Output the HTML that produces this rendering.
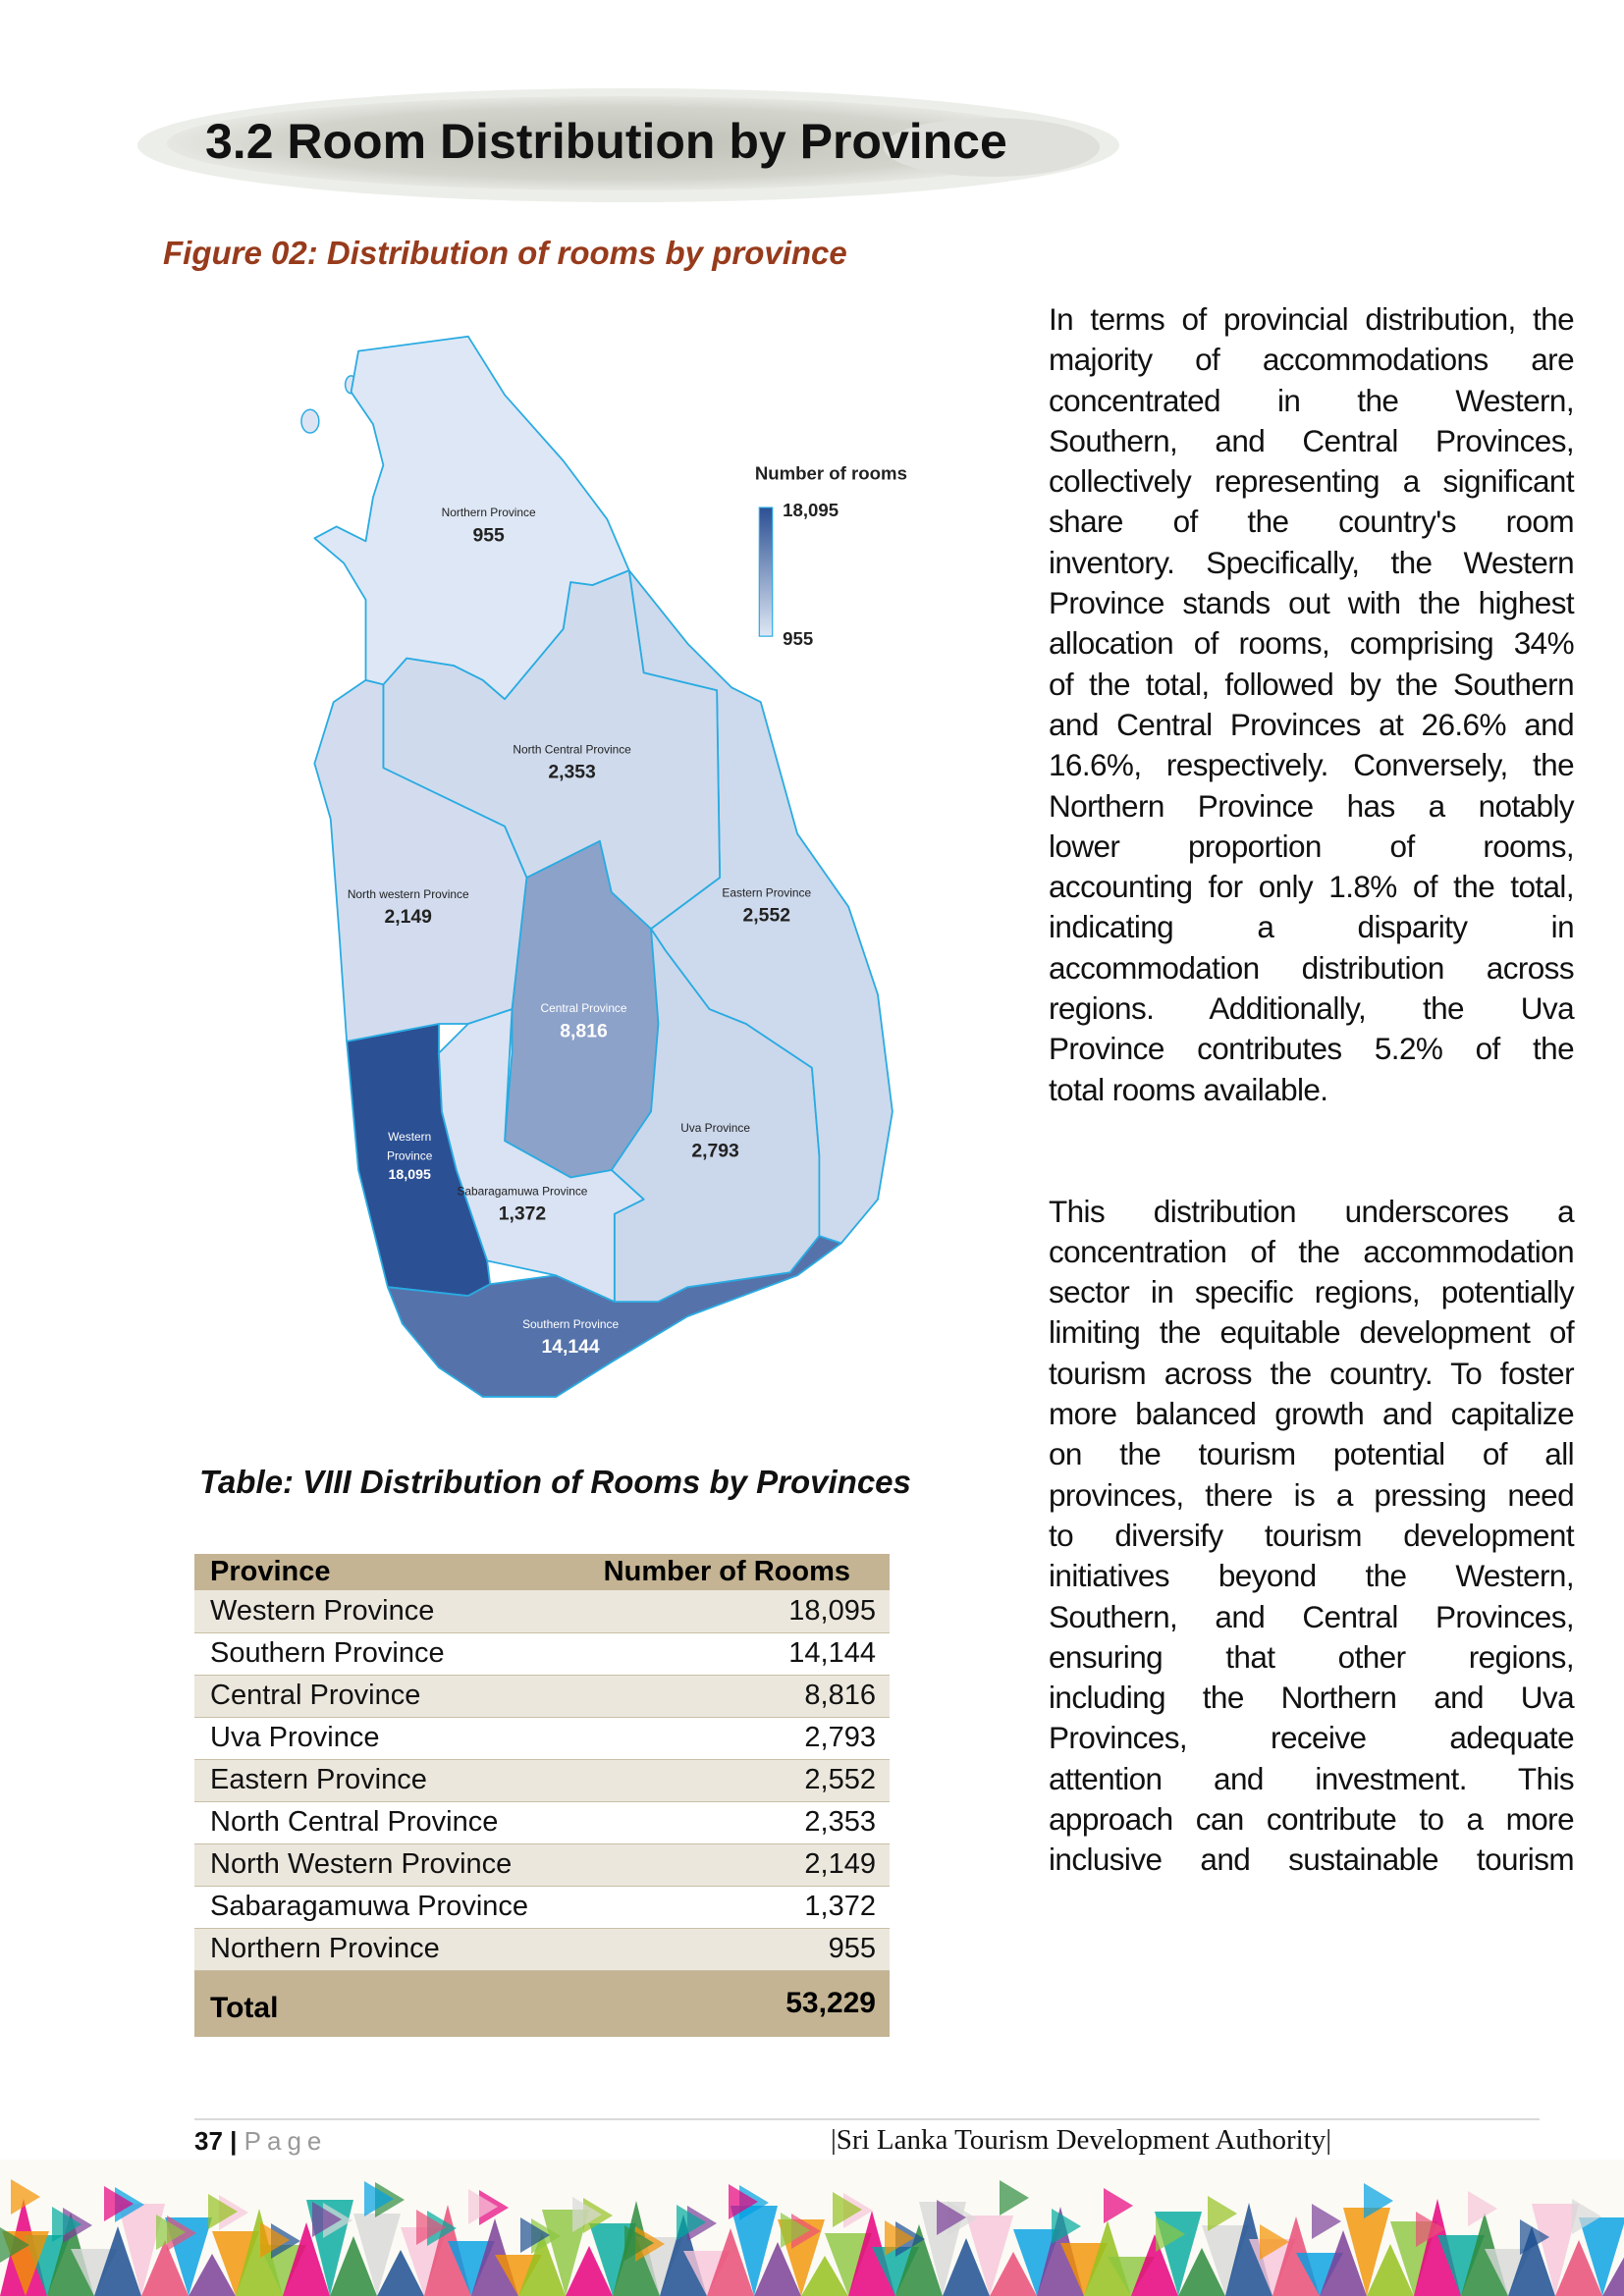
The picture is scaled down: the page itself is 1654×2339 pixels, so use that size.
<!DOCTYPE html>
<html><head><meta charset="utf-8">
<style>
*{margin:0;padding:0;box-sizing:border-box}
body{width:1654px;height:2339px;position:relative;background:#fff;font-family:"Liberation Sans",Arial,sans-serif;overflow:hidden}
.abs{position:absolute}
#body-text div{height:41.3px;line-height:41.3px;font-size:31.5px;color:#111;text-align:justify;text-align-last:justify;white-space:nowrap;letter-spacing:-0.6px}
#body-text div.l{text-align-last:left}
table{border-collapse:collapse}
</style></head><body>

<svg class="abs" style="left:0;top:0" width="1654" height="230">
 <defs><radialGradient id="bg" cx="50%" cy="50%" r="55%"><stop offset="0" stop-color="#bfc1b8"/><stop offset="0.7" stop-color="#d3d5cd"/><stop offset="1" stop-color="#eeefeb"/></radialGradient></defs>
 <ellipse cx="640" cy="148" rx="500" ry="58" fill="#eceee9"/>
 <ellipse cx="630" cy="146" rx="460" ry="48" fill="url(#bg)"/>
 <ellipse cx="1010" cy="150" rx="110" ry="30" fill="#dfe0db"/>
</svg>
<div class="abs" style="left:209px;top:115px;font-size:50px;font-weight:bold;color:#111">3.2 Room Distribution by Province</div>
<div class="abs" style="left:166px;top:239px;font-size:33px;font-weight:bold;font-style:italic;color:#973b1c">Figure 02: Distribution of rooms by province</div>

<svg id="map" class="abs" style="left:0;top:0" width="1000" height="1450"></svg>

<div id="body-text" class="abs" style="left:1068px;top:305px;width:535px">
<div>In terms of provincial distribution, the</div>
<div>majority of accommodations are</div>
<div>concentrated in the Western,</div>
<div>Southern, and Central Provinces,</div>
<div>collectively representing a significant</div>
<div>share of the country's room</div>
<div>inventory. Specifically, the Western</div>
<div>Province stands out with the highest</div>
<div>allocation of rooms, comprising 34%</div>
<div>of the total, followed by the Southern</div>
<div>and Central Provinces at 26.6% and</div>
<div>16.6%, respectively. Conversely, the</div>
<div>Northern Province has a notably</div>
<div>lower proportion of rooms,</div>
<div>accounting for only 1.8% of the total,</div>
<div>indicating a disparity in</div>
<div>accommodation distribution across</div>
<div>regions. Additionally, the Uva</div>
<div>Province contributes 5.2% of the</div>
<div class="l">total rooms available.</div>
<div class="l" style="height:41.3px"></div>
<div class="l" style="height:41.3px"></div>
<div>This distribution underscores a</div>
<div>concentration of the accommodation</div>
<div>sector in specific regions, potentially</div>
<div>limiting the equitable development of</div>
<div>tourism across the country. To foster</div>
<div>more balanced growth and capitalize</div>
<div>on the tourism potential of all</div>
<div>provinces, there is a pressing need</div>
<div>to diversify tourism development</div>
<div>initiatives beyond the Western,</div>
<div>Southern, and Central Provinces,</div>
<div>ensuring that other regions,</div>
<div>including the Northern and Uva</div>
<div>Provinces, receive adequate</div>
<div>attention and investment. This</div>
<div>approach can contribute to a more</div>
<div>inclusive and sustainable tourism</div>
</div>

<div class="abs" style="left:203px;top:1491px;font-size:33px;font-weight:bold;font-style:italic;color:#111">Table: VIII Distribution of Rooms by Provinces</div>

<table id="tbl" class="abs" style="left:198px;top:1583px;width:708px"></table>

<div class="abs" style="left:198px;top:2158px;width:1370px;height:2px;background:#d9d9d9"></div>
<div class="abs" style="left:198px;top:2166px;font-size:26px;color:#111"><b>37 |</b> <span style="color:#999;letter-spacing:6px">Page</span></div>
<div class="abs" style="left:846px;top:2164px;font-size:29px;font-family:'Liberation Serif',serif;color:#111">|Sri Lanka Tourism Development Authority|</div>

<svg id="deco" class="abs" style="left:0;top:2200px" width="1654" height="139"></svg>

<script>
const provinces=["Western Province","Southern Province","Central Province","Uva Province","Eastern Province","North Central Province","North Western Province","Sabaragamuwa Province","Northern Province"];
const rooms=[18095,14144,8816,2793,2552,2353,2149,1372,955];
const mapLabels=["Western|Province","Southern Province","Central Province","Uva Province","Eastern Province","North Central Province","North western Province","Sabaragamuwa Province","Northern Province"];
const total=53229;

const NS="http://www.w3.org/2000/svg";
const S=1.49;
const shapes={
"Northern Province":[[245,240],[320,230],[345,270],[385,315],[415,355],[430,390],[405,400],[390,398],[385,430],[345,478],[330,465],[310,455],[278,450],[262,468],[250,465],[250,410],[235,385],[215,368],[230,360],[250,370],[255,340],[262,318],[255,290],[240,268]],
"North Central Province":[[262,468],[278,450],[310,455],[330,465],[345,478],[385,430],[390,398],[405,400],[430,390],[440,460],[490,472],[492,600],[445,635],[418,610],[410,575],[360,600],[345,565],[262,525]],
"North Western Province":[[262,468],[262,525],[345,565],[360,600],[350,690],[320,700],[300,700],[237,712],[232,640],[226,560],[215,522],[228,480],[250,465]],
"Central Province":[[360,600],[410,575],[418,610],[445,635],[450,700],[445,760],[418,800],[390,805],[345,780],[350,720],[350,690]],
"Eastern Province":[[430,390],[470,440],[500,470],[520,480],[545,570],[580,620],[600,680],[610,760],[600,820],[575,850],[560,845],[560,790],[555,730],[510,700],[485,690],[455,650],[445,635],[492,600],[490,472],[440,460]],
"Uva Province":[[445,635],[455,650],[485,690],[510,700],[555,730],[560,790],[560,845],[540,870],[470,880],[450,890],[420,890],[420,830],[440,820],[418,800],[445,760],[450,700]],
"Sabaragamuwa Province":[[350,690],[345,780],[390,805],[418,800],[440,820],[420,830],[420,890],[380,872],[333,862],[312,800],[302,760],[300,720],[320,700]],
"Western Province":[[237,712],[300,700],[300,720],[302,760],[312,800],[333,862],[335,878],[320,886],[265,880],[245,800]],
"Southern Province":[[265,880],[320,886],[335,878],[380,872],[420,890],[450,890],[470,880],[540,870],[560,845],[575,850],[545,872],[470,900],[420,930],[380,955],[330,955],[300,935],[275,905]]
};
const labelPos={"Northern Province":[334,350],"North Central Province":[391,512],"North Western Province":[279,611],"Eastern Province":[524,610],"Central Province":[399,689],"Uva Province":[489,771],"Western Province":[280,777],"Sabaragamuwa Province":[357,814],"Southern Province":[390,905]};
const maxV=Math.max(...rooms),minV=Math.min(...rooms);
const lo=[222,231,245],hi=[44,80,148];
function col(v){const t=(v-minV)/(maxV-minV);return "rgb("+lo.map((c,i)=>Math.round(c+(hi[i]-c)*t)).join(",")+")";}
function fmt(v){return v.toLocaleString("en-US");}
const map=document.getElementById("map");
const g=document.createElementNS(NS,"g");g.setAttribute("transform","scale("+S+")");map.appendChild(g);
[[212,288,6,8],[240,263,4,6],[270,330,3,3]].forEach(e=>{const el=document.createElementNS(NS,"ellipse");el.setAttribute("cx",e[0]);el.setAttribute("cy",e[1]);el.setAttribute("rx",e[2]);el.setAttribute("ry",e[3]);el.setAttribute("fill","#dce4f3");el.setAttribute("stroke","#29abe2");el.setAttribute("stroke-width","1");


g.appendChild(el);});
provinces.forEach((p,i)=>{
 const poly=document.createElementNS(NS,"polygon");
 poly.setAttribute("points",shapes[p].map(q=>q.join(",")).join(" "));
 poly.setAttribute("fill",col(rooms[i]));poly.setAttribute("stroke","#29abe2");poly.setAttribute("stroke-width","1.2");poly.setAttribute("stroke-linejoin","round");
 
 
 g.appendChild(poly);
});
provinces.forEach((p,i)=>{
 const [x,y]=labelPos[p];const dark=rooms[i]>6000;const fc=dark?"#fff":"#222";
 const lines=mapLabels[i].split("|");
 lines.forEach((ln,k)=>{const t=document.createElementNS(NS,"text");t.setAttribute("x",x);t.setAttribute("y",y+3+k*13);t.setAttribute("text-anchor","middle");t.setAttribute("font-size","8");t.setAttribute("fill",fc);t.textContent=ln;
 
 
 g.appendChild(t);});
 const v=document.createElementNS(NS,"text");v.setAttribute("x",x);v.setAttribute("y",y+5+lines.length*13+ (lines.length>1?-2:2));v.setAttribute("text-anchor","middle");v.setAttribute("font-size",lines.length>1?"9.5":"13");v.setAttribute("font-weight","bold");v.setAttribute("fill",fc);v.textContent=fmt(rooms[i]);
 
 
 g.appendChild(v);
});
const lt=document.createElementNS(NS,"text");lt.setAttribute("x",516);lt.setAttribute("y",328);lt.setAttribute("font-size","12.5");lt.setAttribute("font-weight","bold");lt.setAttribute("fill","#222");lt.textContent="Number of rooms";


g.appendChild(lt);
const defs=document.createElementNS(NS,"defs");defs.innerHTML='<linearGradient id="lg" x1="0" y1="0" x2="0" y2="1"><stop offset="0" stop-color="'+col(maxV)+'"/><stop offset="1" stop-color="'+col(minV)+'"/></linearGradient>';g.appendChild(defs);
const lb=document.createElementNS(NS,"rect");lb.setAttribute("x",519);lb.setAttribute("y",347);lb.setAttribute("width",9);lb.setAttribute("height",88);lb.setAttribute("fill","url(#lg)");lb.setAttribute("stroke","#29abe2");lb.setAttribute("stroke-width","0.8");


g.appendChild(lb);
[[maxV,353],[minV,441]].forEach(a=>{const t=document.createElementNS(NS,"text");t.setAttribute("x",535);t.setAttribute("y",a[1]);t.setAttribute("font-size","12.5");t.setAttribute("font-weight","bold");t.setAttribute("fill","#222");t.textContent=fmt(a[0]);


g.appendChild(t);});

const tbl=document.getElementById("tbl");
tbl.innerHTML='<tr style="background:#c4b493;height:37px;font-weight:bold;font-size:29px"><td style="padding-left:16px">Province</td><td style="text-align:right;padding-right:40px">Number of Rooms</td></tr>';
provinces.forEach((p,i)=>{
 const tr=document.createElement("tr");
 
 
 tr.style.cssText="height:43px;font-size:29px;color:#111;background:"+(i%2==0?"#ebe7dd":"#fff")+";border-bottom:1.5px solid #c9bfa6";
 tr.innerHTML='<td style="padding-left:16px">'+p+'</td><td style="text-align:right;padding-right:14px">'+fmt(rooms[i])+'</td>';
 tbl.appendChild(tr);
});
const trt=document.createElement("tr");


trt.style.cssText="height:68px;font-size:30px;font-weight:bold;background:#c4b493";
trt.innerHTML='<td style="padding-left:16px;padding-top:10px">Total</td><td style="text-align:right;padding-right:14px">'+fmt(total)+'</td>';
tbl.appendChild(trt);

const deco=document.getElementById("deco");
const pal=["#e6007e","#009fe3","#2e8b3d","#f39200","#1d4f91","#8cc63f","#e94e77","#00a99d","#7b3f98","#d8d8d8","#95c11f","#f7c6d9"];
let s="";
for(let i=0;i<70;i++){
 const x=(i*24)%1654, up=i%2==0;
 const y=40+((i*37)%60);
 const c=pal[(i*7)%pal.length];
 s+= up?`<polygon points="${x},${139} ${x+24},${y} ${x+48},139" fill="${c}" opacity="0.85"/>`:`<polygon points="${x},${y} ${x+48},${y} ${x+24},139" fill="${c}" opacity="0.8"/>`;
}
for(let i=0;i<50;i++){const x=(i*53+11)%1654,y=20+((i*29)%50),c=pal[(i*5+3)%pal.length];s+=`<polygon points="${x},${y} ${x+30},${y+18} ${x},${y+36}" fill="${c}" opacity="0.7"/>`;}
deco.innerHTML='<rect width="1654" height="139" fill="#fbfaf5"/>'+s;
</script>
</body></html>
